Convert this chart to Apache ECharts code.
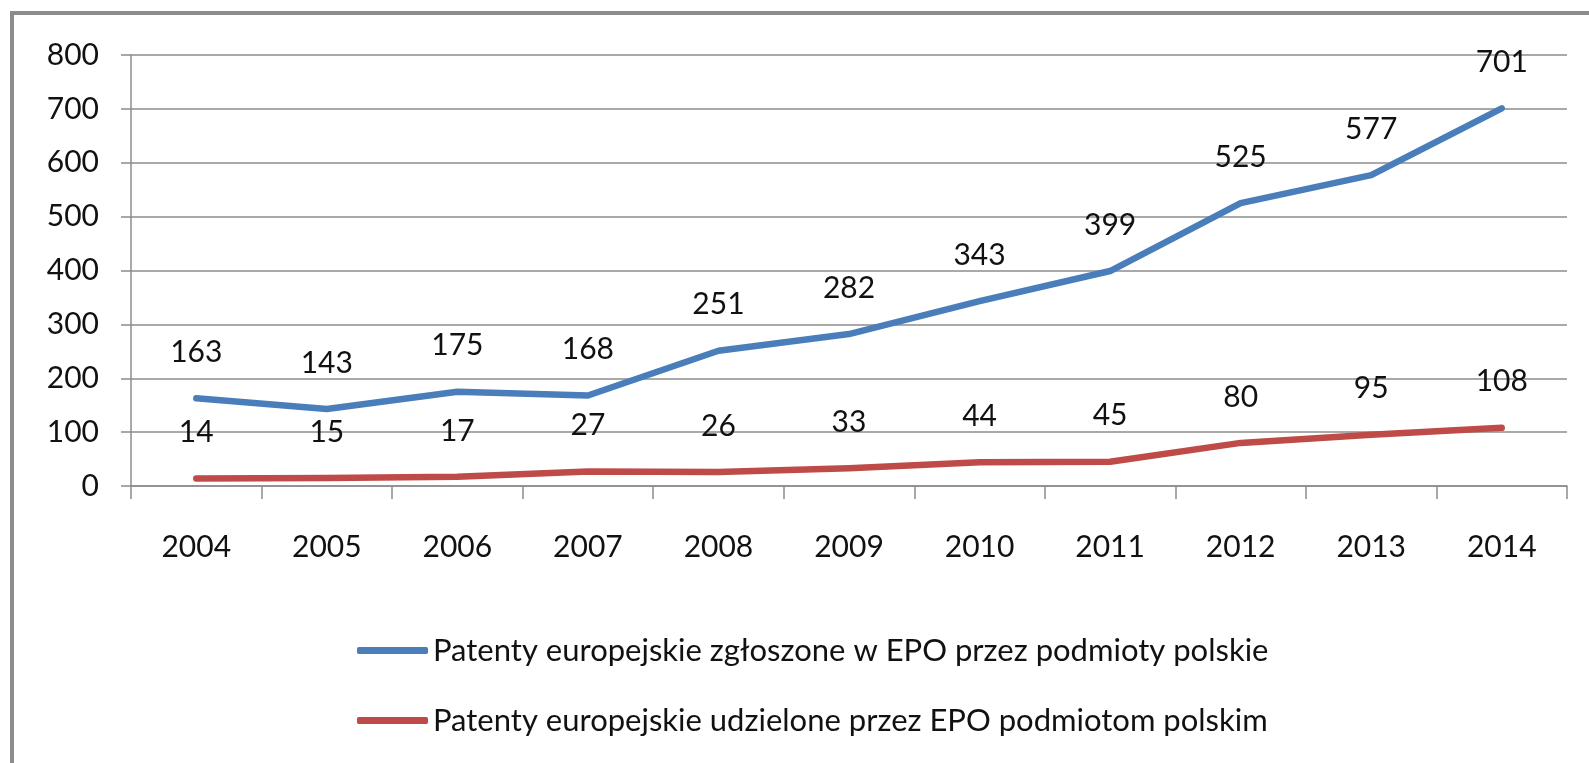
<html>
<head>
    <meta charset="utf-8">
    <title>Patenty europejskie</title>
    <style>
        * { margin: 0; padding: 0; }
        body { background: #fff; }
        #frame {
            position: absolute;
            left: 10px;
            top: 11px;
            right: 0;
            bottom: 0;
            border-left: 4px solid #8c8c8c;
            border-top: 4px solid #8c8c8c;
        }
        #chart-container {
            position: absolute;
            left: 0; top: 0;
            width: 1589px;
            height: 763px;
        }
    </style>
</head>
<body>
<div id="frame"></div>
<div id="chart-container"></div>
<script src="https://cdn.jsdelivr.net/npm/echarts@6/dist/echarts.min.js"></script>
<script>
    var years = ['2004', '2005', '2006', '2007', '2008', '2009', '2010', '2011', '2012', '2013', '2014'];
    var zgloszone = [163, 143, 175, 168, 251, 282, 343, 399, 525, 577, 701];
    var udzielone = [14, 15, 17, 27, 26, 33, 44, 45, 80, 95, 108];
    var yTicks = { min: 0, max: 800, interval: 100 };

    var font = 'Lato';

    var dom = document.getElementById('chart-container');
    var myChart = echarts.init(dom, null, { renderer: 'canvas' });

    // labels above the line; the tiny symbol hides under the line
    var labelStyle = { show: true, position: 'top', distance: 30, fontSize: 30, color: '#111', fontFamily: font };

    var option = {
        animation: false,
        color: ['#4a7ebb', '#be4b48'],
        textStyle: { fontFamily: font },
        grid: { left: 131, right: 22, top: 55, bottom: 277 },
        legend: {
            orient: 'vertical',
            left: 352,
            top: 630,
            itemGap: 39,
            itemWidth: 71,
            itemHeight: 7,
            icon: 'roundRect',
            textStyle: { fontSize: 31, color: '#111', fontFamily: font, lineHeight: 31 },
            data: [
                'Patenty europejskie zgłoszone w EPO przez podmioty polskie',
                'Patenty europejskie udzielone przez EPO podmiotom polskim'
            ]
        },
        xAxis: {
            type: 'category',
            data: years,
            boundaryGap: true,
            axisLine: { lineStyle: { color: '#8c8c8c', width: 1.5 } },
            axisTick: { show: true, length: 13, lineStyle: { color: '#8c8c8c', width: 1.5 } },
            axisLabel: { color: '#111', fontSize: 30, margin: 46 }
        },
        yAxis: {
            type: 'value',
            min: yTicks.min,
            max: yTicks.max,
            interval: yTicks.interval,
            axisLine: { show: true, lineStyle: { color: '#8c8c8c', width: 1.5 } },
            axisTick: { show: true, length: 10, lineStyle: { color: '#8c8c8c', width: 1.5 } },
            axisLabel: { color: '#111', fontSize: 30, margin: 32 },
            splitLine: { lineStyle: { color: '#8c8c8c', width: 1.5 } }
        },
        series: [
            {
                name: 'Patenty europejskie zgłoszone w EPO przez podmioty polskie',
                type: 'line',
                data: zgloszone,
                symbol: 'circle',
                symbolSize: 2,
                showSymbol: true,
                lineStyle: { width: 6.5, cap: 'round', join: 'round' },
                label: labelStyle
            },
            {
                name: 'Patenty europejskie udzielone przez EPO podmiotom polskim',
                type: 'line',
                data: udzielone,
                symbol: 'circle',
                symbolSize: 2,
                showSymbol: true,
                lineStyle: { width: 6.5, cap: 'round', join: 'round' },
                label: labelStyle
            }
        ]
    };

    myChart.setOption(option);
    window.addEventListener('resize', myChart.resize);
</script>
</body>
</html>
